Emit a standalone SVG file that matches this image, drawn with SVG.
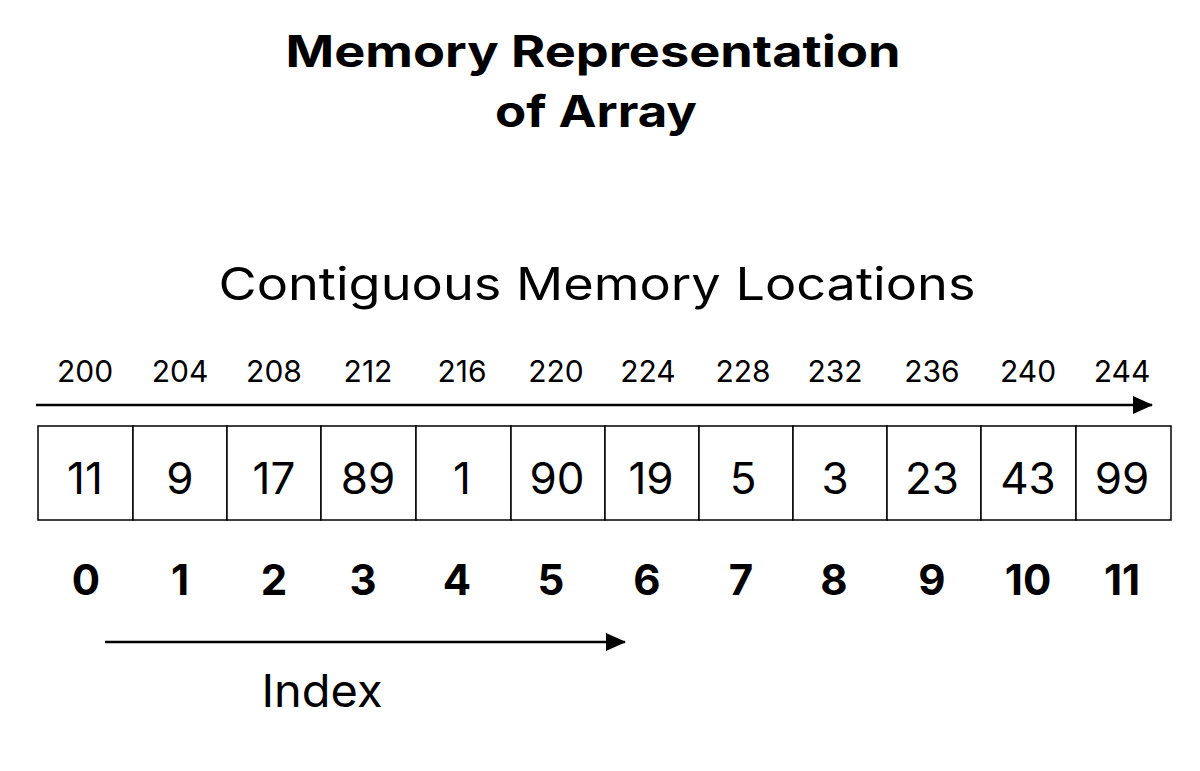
<svg xmlns="http://www.w3.org/2000/svg" width="1200" height="771" viewBox="0 0 1200 771">
<style>
text{font-family:Inter,"Open Sans","Liberation Sans",sans-serif;fill:#000;text-anchor:middle}
.t{font-size:44px;font-weight:700}
.s{font-size:45px}
.a{font-size:30px}
.v{font-size:44px}
.i{font-size:42px;font-weight:700}
.c{fill:#fff;stroke:#000;stroke-width:1.5}
.l{stroke:#000;stroke-width:2.5;fill:none}
</style>
<defs><marker id="ah2" markerWidth="20" markerHeight="20" refX="19" refY="10" orient="auto" markerUnits="userSpaceOnUse" viewBox="0 0 20 20"><path d="M0,1L20,10L0,19z" fill="#000"/></marker></defs>
<g id="title"><text class="t" x="593" y="67" textLength="615" lengthAdjust="spacingAndGlyphs">Memory Representation</text><text class="t" x="596" y="127" textLength="202" lengthAdjust="spacingAndGlyphs">of Array</text></g>
<g id="subtitle"><text class="s" x="597" y="300" textLength="757" lengthAdjust="spacingAndGlyphs">Contiguous Memory Locations</text></g>
<g id="connectors">
<line class="l" x1="36" y1="405" x2="1152" y2="405" marker-end="url(#ah2)"/>
<line class="l" x1="105" y1="642" x2="625" y2="642" marker-end="url(#ah2)"/>
</g>
<g id="addresses">
<text class="a" x="85" y="382">200</text><text class="a" x="180" y="382">204</text><text class="a" x="274" y="382">208</text><text class="a" x="368" y="382">212</text><text class="a" x="462" y="382">216</text><text class="a" x="556" y="382">220</text><text class="a" x="648" y="382">224</text><text class="a" x="743" y="382">228</text><text class="a" x="835" y="382">232</text><text class="a" x="932" y="382">236</text><text class="a" x="1028" y="382">240</text><text class="a" x="1122" y="382">244</text>
</g>
<g id="array">
<rect class="c" x="38" y="426" width="95" height="94"/><rect class="c" x="133" y="426" width="94" height="94"/><rect class="c" x="227" y="426" width="94" height="94"/><rect class="c" x="321" y="426" width="95" height="94"/><rect class="c" x="416" y="426" width="95" height="94"/><rect class="c" x="511" y="426" width="94" height="94"/><rect class="c" x="605" y="426" width="94" height="94"/><rect class="c" x="699" y="426" width="94" height="94"/><rect class="c" x="793" y="426" width="94" height="94"/><rect class="c" x="887" y="426" width="94" height="94"/><rect class="c" x="981" y="426" width="95" height="94"/><rect class="c" x="1076" y="426" width="95" height="94"/>
<text class="v" x="85" y="494">11</text><text class="v" x="180" y="494">9</text><text class="v" x="274" y="494">17</text><text class="v" x="368" y="494">89</text><text class="v" x="462" y="494">1</text><text class="v" x="557" y="494">90</text><text class="v" x="651" y="494">19</text><text class="v" x="743" y="494">5</text><text class="v" x="835" y="494">3</text><text class="v" x="932" y="494">23</text><text class="v" x="1028" y="494">43</text><text class="v" x="1122" y="494">99</text>
</g>
<g id="indices">
<text class="i" x="86" y="595">0</text><text class="i" x="180" y="595">1</text><text class="i" x="274" y="595">2</text><text class="i" x="363" y="595">3</text><text class="i" x="457" y="595">4</text><text class="i" x="551" y="595">5</text><text class="i" x="647" y="595">6</text><text class="i" x="741" y="595">7</text><text class="i" x="834" y="595">8</text><text class="i" x="932" y="595">9</text><text class="i" x="1028" y="595">10</text><text class="i" x="1122" y="595">11</text>
</g>
<g id="index-label"><text class="s" x="322" y="707" textLength="121" lengthAdjust="spacingAndGlyphs">Index</text></g>
</svg>
